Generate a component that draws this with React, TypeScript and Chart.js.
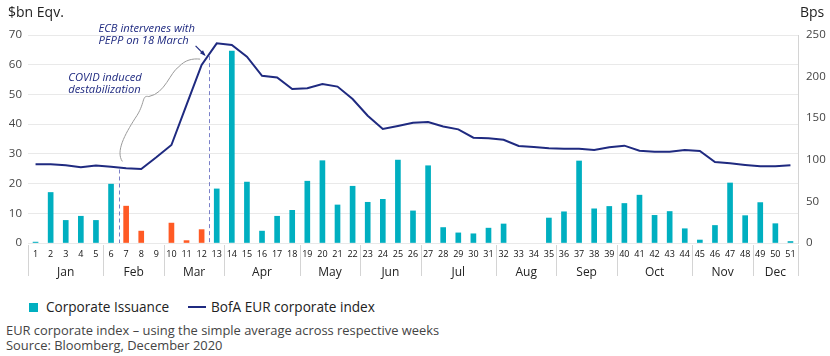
import React, { useEffect, useRef } from "react";
import { Chart, registerables } from "chart.js";

Chart.register(...registerables);

const weeks = ["1","2","3","4","5","6","7","8","9","10","11","12","13","14","15","16","17","18","19","20","21","22","23","24","25","26","27","28","29","30","31","32","33","34","35","36","37","38","39","40","41","42","43","44","45","46","47","48","49","50","51"];

const issuance = [0.3,17.0,7.6,9.0,7.6,19.8,12.4,4.0,0,6.7,0.8,4.5,18.2,64.6,20.5,4.0,9.0,11.0,20.8,27.7,12.8,19.1,13.7,14.7,27.9,10.8,26.0,5.2,3.4,3.1,5.0,6.4,0,0,8.4,10.5,27.6,11.5,12.3,13.3,16.1,9.3,10.6,4.8,1.0,5.9,20.2,9.2,13.6,6.5,0.5];

const indexBps = [94.6,94.6,93.4,91,93,91.7,89.8,89,103,117.8,166,214,240,238,224,201,199,185,186,191,188,173,153,137,140.6,144.6,145.4,140,136.6,126.6,125.8,124,116.6,115.4,114,113.4,113.4,111.8,115,117,111,109.8,109.8,111.8,110.6,97.4,95.8,93.8,92.2,92.2,93.4];

const months = ["Jan","Feb","Mar","Apr","May","Jun","Jul","Aug","Sep","Oct","Nov","Dec"];
const monthWeekCounts = [5,4,4,5,4,4,5,4,4,5,4,3];

const highlightWeeks = [7,8,9,10,11,12];
const eventWeeks = [6.5, 12.5];

const leftTicks = { min: 0, max: 70, step: 10 };
const rightTicks = { min: 0, max: 250, step: 50 };

const TEAL = "#00AFC0";
const ORANGE = "#FF5A24";
const NAVY = "#1F2A80";
const DASH = "#7A80C8";
const FONT = "'Open Sans', sans-serif";

const annotationPlugin = {
  id: "annotations",
  afterDraw(chart: any) {
    const ctx = chart.ctx;
    const xs = chart.scales.x;
    const yr = chart.scales.y1;
    const area = chart.chartArea;
    const x0 = xs.getPixelForValue(0);
    const step = xs.getPixelForValue(1) - x0;
    const px = (w: number) => x0 + (w - 1) * step;
    const py = (v: number) => yr.getPixelForValue(v);

    ctx.save();
    // month separators and labels
    ctx.strokeStyle = "#d4d4d4";
    ctx.lineWidth = 1;
    ctx.fillStyle = "#222";
    ctx.font = `12px ${FONT}`;
    ctx.textAlign = "center";
    ctx.textBaseline = "middle";
    let start = 1;
    const sepTop = area.bottom + 2;
    const sepBottom = area.bottom + 33;
    const drawSep = (w: number) => {
      const x = Math.round(px(w)) + 0.5;
      ctx.beginPath();
      ctx.moveTo(x, sepTop);
      ctx.lineTo(x, sepBottom);
      ctx.stroke();
    };
    drawSep(0.5);
    months.forEach((m, i) => {
      const end = start + monthWeekCounts[i] - 1;
      drawSep(end + 0.5);
      ctx.fillText(m, (px(start) + px(end)) / 2, area.bottom + 30);
      start = end + 1;
    });

    // dashed event lines
    ctx.strokeStyle = DASH;
    ctx.setLineDash([4, 3]);
    eventWeeks.forEach((w) => {
      const i = Math.floor(w) - 1;
      const f = w - Math.floor(w);
      const v = indexBps[i] + (indexBps[i + 1] - indexBps[i]) * f;
      const x = Math.round(px(w)) + 0.5;
      ctx.beginPath();
      ctx.moveTo(x, py(v) + 2);
      ctx.lineTo(x, area.bottom);
      ctx.stroke();
    });
    ctx.setLineDash([]);

    // brace
    ctx.strokeStyle = "#9a9a9a";
    ctx.lineWidth = 1;
    ctx.beginPath();
    ctx.moveTo(px(6.75), py(98));
    ctx.bezierCurveTo(px(6.3), py(110), px(6.9), py(130), px(7.6), py(150));
    ctx.bezierCurveTo(px(8.3), py(168), px(8.0), py(178), px(8.5), py(176));
    ctx.bezierCurveTo(px(9.6), py(180), px(9.9), py(205), px(10.5), py(212));
    ctx.bezierCurveTo(px(10.9), py(220), px(11.4), py(222), px(11.9), py(221));
    ctx.stroke();

    // arrow
    const ax1 = px(11.6), ay1 = py(237);
    const ax2 = px(12.2), ay2 = py(226);
    ctx.strokeStyle = NAVY;
    ctx.fillStyle = NAVY;
    ctx.lineWidth = 1.2;
    ctx.beginPath();
    ctx.moveTo(ax1, ay1);
    ctx.lineTo(ax2, ay2);
    ctx.stroke();
    const ang = Math.atan2(ay2 - ay1, ax2 - ax1);
    const hl = 5;
    ctx.beginPath();
    ctx.moveTo(ax2 + 1, ay2 + 1);
    ctx.lineTo(ax2 - hl * Math.cos(ang - 0.45), ay2 - hl * Math.sin(ang - 0.45));
    ctx.lineTo(ax2 - hl * Math.cos(ang + 0.45), ay2 - hl * Math.sin(ang + 0.45));
    ctx.closePath();
    ctx.fill();

    // texts
    ctx.fillStyle = NAVY;
    ctx.font = `italic 11.2px ${FONT}`;
    ctx.textAlign = "left";
    ctx.textBaseline = "middle";
    ctx.fillText("ECB intervenes with", px(5.17), py(257));
    ctx.fillText("PEPP on 18 March", px(5.17), py(243));
    ctx.fillText("COVID induced", px(3.17), py(198));
    ctx.fillText("destabilization", px(3.17), py(184.5));
    ctx.restore();
  },
};

export default function App() {
  const ref = useRef<HTMLCanvasElement | null>(null);

  useEffect(() => {
    document.body.style.margin = "0";
    const canvas = ref.current;
    if (!canvas) return;
    const colors = weeks.map((w) =>
      highlightWeeks.includes(Number(w)) ? ORANGE : TEAL
    );
    const barData = issuance.map((v) => (v === 0 ? null : v));
    const chart = new Chart(canvas, {
      type: "bar",
      data: {
        labels: weeks,
        datasets: [
          {
            type: "line",
            label: "BofA EUR corporate index",
            data: indexBps,
            yAxisID: "y1",
            borderColor: NAVY,
            backgroundColor: NAVY,
            borderWidth: 2,
            pointRadius: 0,
            tension: 0,
            order: 0,
          } as any,
          {
            type: "bar",
            label: "Corporate Issuance",
            data: barData,
            yAxisID: "y",
            backgroundColor: colors,
            barThickness: 5,
            order: 1,
          } as any,
        ],
      },
      options: {
        animation: false,
        responsive: false,
        maintainAspectRatio: false,
        layout: { padding: { top: 35, bottom: 0, left: 0, right: 0 } },
        plugins: {
          legend: { display: false },
          tooltip: { enabled: false },
        },
        scales: {
          x: {
            grid: { display: false, drawTicks: false },
            border: { display: false },
            ticks: {
              autoSkip: false,
              maxRotation: 0,
              minRotation: 0,
              padding: 6,
              color: "#111",
              font: { size: 9, family: FONT },
            },
            afterFit: (s: any) => {
              s.height = 47;
            },
          },
          y: {
            position: "left",
            min: leftTicks.min,
            max: leftTicks.max,
            ticks: {
              stepSize: leftTicks.step,
              padding: 6,
              color: "#444",
              font: { size: 11.5, family: FONT },
            },
            grid: { color: "#e9e9e9", drawTicks: false, lineWidth: 1 },
            border: { display: false },
            afterFit: (s: any) => {
              s.width = 28;
            },
          },
          y1: {
            position: "right",
            min: rightTicks.min,
            max: rightTicks.max,
            ticks: {
              stepSize: rightTicks.step,
              padding: 8,
              color: "#444",
              font: { size: 11.5, family: FONT },
            },
            grid: { display: false, drawTicks: false },
            border: { display: true, color: "#d4d4d4" },
            afterFit: (s: any) => {
              s.width = 32;
            },
          },
        },
      } as any,
      plugins: [annotationPlugin],
    });
    return () => chart.destroy();
  }, []);

  return (
    <div
      style={{
        position: "relative",
        width: 830,
        height: 356,
        background: "#fff",
        fontFamily: FONT,
        overflow: "hidden",
      }}
    >
      <canvas
        ref={ref}
        width={830}
        height={290}
        style={{ position: "absolute", left: 0, top: 0, width: 830, height: 290 }}
      />
      <div style={{ position: "absolute", left: 8, top: 3, fontSize: 14, color: "#222", lineHeight: "18px" }}>
        $bn Eqv.
      </div>
      <div style={{ position: "absolute", left: 800, top: 3, fontSize: 14, color: "#222", lineHeight: "18px" }}>
        Bps
      </div>
      <div
        style={{
          position: "absolute",
          left: 29,
          top: 298,
          display: "flex",
          alignItems: "center",
          fontSize: 13.6,
          color: "#222",
          lineHeight: "18px",
        }}
      >
        <span style={{ display: "inline-block", width: 9, height: 9, background: TEAL, marginRight: 8 }} />
        <span>Corporate Issuance</span>
        <span style={{ display: "inline-block", width: 18, height: 2, background: NAVY, marginLeft: 19, marginRight: 5 }} />
        <span>BofA EUR corporate index</span>
      </div>
      <div
        style={{
          position: "absolute",
          left: 6,
          top: 323,
          fontSize: 12.9,
          color: "#444",
          lineHeight: "15px",
        }}
      >
        <div>EUR corporate index – using the simple average across respective weeks</div>
        <div>Source: Bloomberg, December 2020</div>
      </div>
    </div>
  );
}
